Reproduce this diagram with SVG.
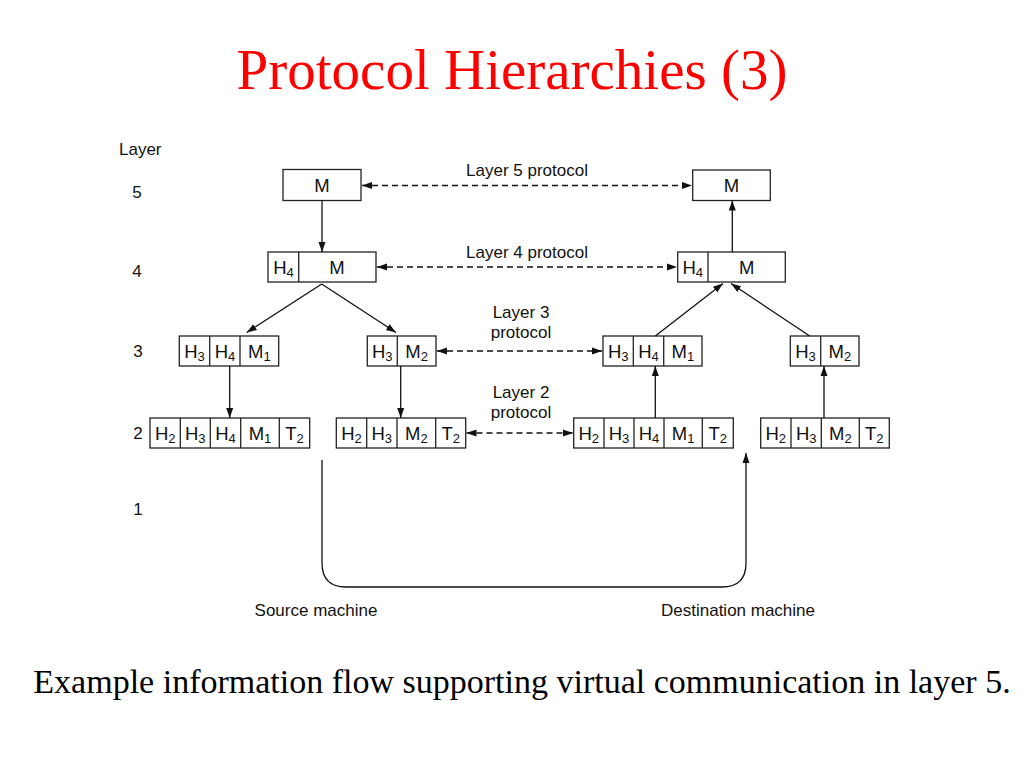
<svg xmlns="http://www.w3.org/2000/svg" width="1024" height="768" viewBox="0 0 1024 768">
<style>
.title{font-family:"Liberation Serif","Times New Roman",serif;font-size:57px;fill:#ff0000}
.cap{font-family:"Liberation Serif","Times New Roman",serif;font-size:34px;fill:#000}
.lbl{font-family:"Liberation Sans",Arial,sans-serif;font-size:17px;fill:#111}
.cell{font-family:"Liberation Sans",Arial,sans-serif;font-size:18.5px;fill:#111;text-anchor:middle}
.sub{font-size:13px}
.box{fill:#fff;stroke:#222;stroke-width:1.3}
.div{stroke:#222;stroke-width:1.3}
.arr{stroke:#111;stroke-width:1.3;fill:none;marker-end:url(#ah)}
.dash{stroke:#111;stroke-width:1.3;fill:none;stroke-dasharray:6 4;marker-start:url(#ahs);marker-end:url(#ah)}
</style>
<defs>
<marker id="ah" viewBox="0 0 10 10" refX="10" refY="5" markerWidth="10" markerHeight="10" markerUnits="userSpaceOnUse" orient="auto"><path d="M0,1.5 L10,5 L0,8.5 z" fill="#111"/></marker>
<marker id="ahs" viewBox="0 0 10 10" refX="0" refY="5" markerWidth="10" markerHeight="10" markerUnits="userSpaceOnUse" orient="auto"><path d="M10,1.5 L0,5 L10,8.5 z" fill="#111"/></marker>
</defs>
<rect width="1024" height="768" fill="#fff"/>
<text class="title" x="512" y="89" text-anchor="middle">Protocol Hierarchies (3)</text>
<text class="cap" x="522" y="693" text-anchor="middle">Example information flow supporting virtual communication in layer 5.</text>

<g id="layer-labels" class="lbl">
<text x="119" y="155">Layer</text>
<text x="137" y="198" text-anchor="middle">5</text>
<text x="137" y="277" text-anchor="middle">4</text>
<text x="138" y="357" text-anchor="middle">3</text>
<text x="138" y="439" text-anchor="middle">2</text>
<text x="138" y="515" text-anchor="middle">1</text>
</g>

<g id="protocol-labels" class="lbl" text-anchor="middle">
<text x="527" y="176">Layer 5 protocol</text>
<text x="527" y="258">Layer 4 protocol</text>
<text x="521" y="318">Layer 3</text>
<text x="521" y="338">protocol</text>
<text x="521" y="398">Layer 2</text>
<text x="521" y="418">protocol</text>
<text x="316" y="616">Source machine</text>
<text x="738" y="616">Destination machine</text>
</g>

<g id="src-l5">
<rect class="box" x="283" y="169.5" width="78" height="31"/>
<text class="cell" x="322" y="192">M</text>
</g>
<g id="src-l4">
<rect class="box" x="268" y="252" width="108" height="30"/>
<line class="div" x1="298.7" y1="252" x2="298.7" y2="282"/>
<text class="cell" x="283.5" y="274">H<tspan class="sub" dy="3">4</tspan></text>
<text class="cell" x="337" y="274">M</text>
</g>
<g id="src-l3a">
<rect class="box" x="179.3" y="336" width="99.4" height="30"/>
<line class="div" x1="209.7" y1="336" x2="209.7" y2="366"/>
<line class="div" x1="240" y1="336" x2="240" y2="366"/>
<text class="cell" x="194.5" y="358">H<tspan class="sub" dy="3">3</tspan></text>
<text class="cell" x="225" y="358">H<tspan class="sub" dy="3">4</tspan></text>
<text class="cell" x="259.3" y="358">M<tspan class="sub" dy="3">1</tspan></text>
</g>
<g id="src-l3b">
<rect class="box" x="367.3" y="336" width="68.7" height="30"/>
<line class="div" x1="397.3" y1="336" x2="397.3" y2="366"/>
<text class="cell" x="382.3" y="358">H<tspan class="sub" dy="3">3</tspan></text>
<text class="cell" x="416.7" y="358">M<tspan class="sub" dy="3">2</tspan></text>
</g>
<g id="src-l2a">
<rect class="box" x="150" y="418" width="159.7" height="30"/>
<line class="div" x1="180.3" y1="418" x2="180.3" y2="448"/>
<line class="div" x1="210.3" y1="418" x2="210.3" y2="448"/>
<line class="div" x1="240.7" y1="418" x2="240.7" y2="448"/>
<line class="div" x1="279.3" y1="418" x2="279.3" y2="448"/>
<text class="cell" x="165.2" y="440">H<tspan class="sub" dy="3">2</tspan></text>
<text class="cell" x="195.3" y="440">H<tspan class="sub" dy="3">3</tspan></text>
<text class="cell" x="225.5" y="440">H<tspan class="sub" dy="3">4</tspan></text>
<text class="cell" x="260" y="440">M<tspan class="sub" dy="3">1</tspan></text>
<text class="cell" x="294.5" y="440">T<tspan class="sub" dy="3">2</tspan></text>
</g>
<g id="src-l2b">
<rect class="box" x="336.3" y="418" width="129.4" height="30"/>
<line class="div" x1="366.7" y1="418" x2="366.7" y2="448"/>
<line class="div" x1="397" y1="418" x2="397" y2="448"/>
<line class="div" x1="435.7" y1="418" x2="435.7" y2="448"/>
<text class="cell" x="351.5" y="440">H<tspan class="sub" dy="3">2</tspan></text>
<text class="cell" x="381.8" y="440">H<tspan class="sub" dy="3">3</tspan></text>
<text class="cell" x="416.3" y="440">M<tspan class="sub" dy="3">2</tspan></text>
<text class="cell" x="450.7" y="440">T<tspan class="sub" dy="3">2</tspan></text>
</g>

<g id="dst-l5">
<rect class="box" x="692.7" y="170" width="77.6" height="30.5"/>
<text class="cell" x="731.5" y="192">M</text>
</g>
<g id="dst-l4">
<rect class="box" x="677.7" y="252" width="107.6" height="30"/>
<line class="div" x1="708" y1="252" x2="708" y2="282"/>
<text class="cell" x="692.8" y="274">H<tspan class="sub" dy="3">4</tspan></text>
<text class="cell" x="746.6" y="274">M</text>
</g>
<g id="dst-l3a">
<rect class="box" x="603" y="336" width="99" height="30"/>
<line class="div" x1="633.3" y1="336" x2="633.3" y2="366"/>
<line class="div" x1="663.7" y1="336" x2="663.7" y2="366"/>
<text class="cell" x="618.2" y="358">H<tspan class="sub" dy="3">3</tspan></text>
<text class="cell" x="648.5" y="358">H<tspan class="sub" dy="3">4</tspan></text>
<text class="cell" x="682.8" y="358">M<tspan class="sub" dy="3">1</tspan></text>
</g>
<g id="dst-l3b">
<rect class="box" x="790.3" y="336" width="68.7" height="30"/>
<line class="div" x1="820.7" y1="336" x2="820.7" y2="366"/>
<text class="cell" x="805.5" y="358">H<tspan class="sub" dy="3">3</tspan></text>
<text class="cell" x="839.8" y="358">M<tspan class="sub" dy="3">2</tspan></text>
</g>
<g id="dst-l2a">
<rect class="box" x="573.7" y="418" width="159.6" height="30"/>
<line class="div" x1="604" y1="418" x2="604" y2="448"/>
<line class="div" x1="634" y1="418" x2="634" y2="448"/>
<line class="div" x1="664" y1="418" x2="664" y2="448"/>
<line class="div" x1="702.3" y1="418" x2="702.3" y2="448"/>
<text class="cell" x="588.8" y="440">H<tspan class="sub" dy="3">2</tspan></text>
<text class="cell" x="619" y="440">H<tspan class="sub" dy="3">3</tspan></text>
<text class="cell" x="649" y="440">H<tspan class="sub" dy="3">4</tspan></text>
<text class="cell" x="683.2" y="440">M<tspan class="sub" dy="3">1</tspan></text>
<text class="cell" x="717.8" y="440">T<tspan class="sub" dy="3">2</tspan></text>
</g>
<g id="dst-l2b">
<rect class="box" x="760.7" y="418" width="128.6" height="30"/>
<line class="div" x1="791" y1="418" x2="791" y2="448"/>
<line class="div" x1="821.3" y1="418" x2="821.3" y2="448"/>
<line class="div" x1="859.3" y1="418" x2="859.3" y2="448"/>
<text class="cell" x="775.8" y="440">H<tspan class="sub" dy="3">2</tspan></text>
<text class="cell" x="806.2" y="440">H<tspan class="sub" dy="3">3</tspan></text>
<text class="cell" x="840.3" y="440">M<tspan class="sub" dy="3">2</tspan></text>
<text class="cell" x="874.3" y="440">T<tspan class="sub" dy="3">2</tspan></text>
</g>

<g id="connectors">
<line class="dash" x1="362" y1="185.5" x2="692" y2="185.5"/>
<line class="dash" x1="377" y1="267" x2="677" y2="267"/>
<line class="dash" x1="437" y1="351" x2="602" y2="351"/>
<line class="dash" x1="466.5" y1="433" x2="573" y2="433"/>
<line class="arr" x1="322" y1="200.5" x2="322" y2="252"/>
<line class="arr" x1="321.7" y1="284" x2="246.7" y2="332.5"/>
<line class="arr" x1="321.7" y1="284" x2="396" y2="332.5"/>
<line class="arr" x1="229.7" y1="366" x2="229.7" y2="418"/>
<line class="arr" x1="400.7" y1="366" x2="400.7" y2="418"/>
<line class="arr" x1="655.3" y1="418" x2="655.3" y2="366"/>
<line class="arr" x1="824" y1="418" x2="824" y2="366"/>
<line class="arr" x1="655.3" y1="336" x2="723" y2="283.5"/>
<line class="arr" x1="809.7" y1="336" x2="731" y2="283.5"/>
<line class="arr" x1="732.3" y1="252" x2="732.3" y2="200.5"/>
<path class="arr" d="M322,460 V563 Q322,587 346,587 H722 Q746,587 746,563 V453"/>
</g>
</svg>
